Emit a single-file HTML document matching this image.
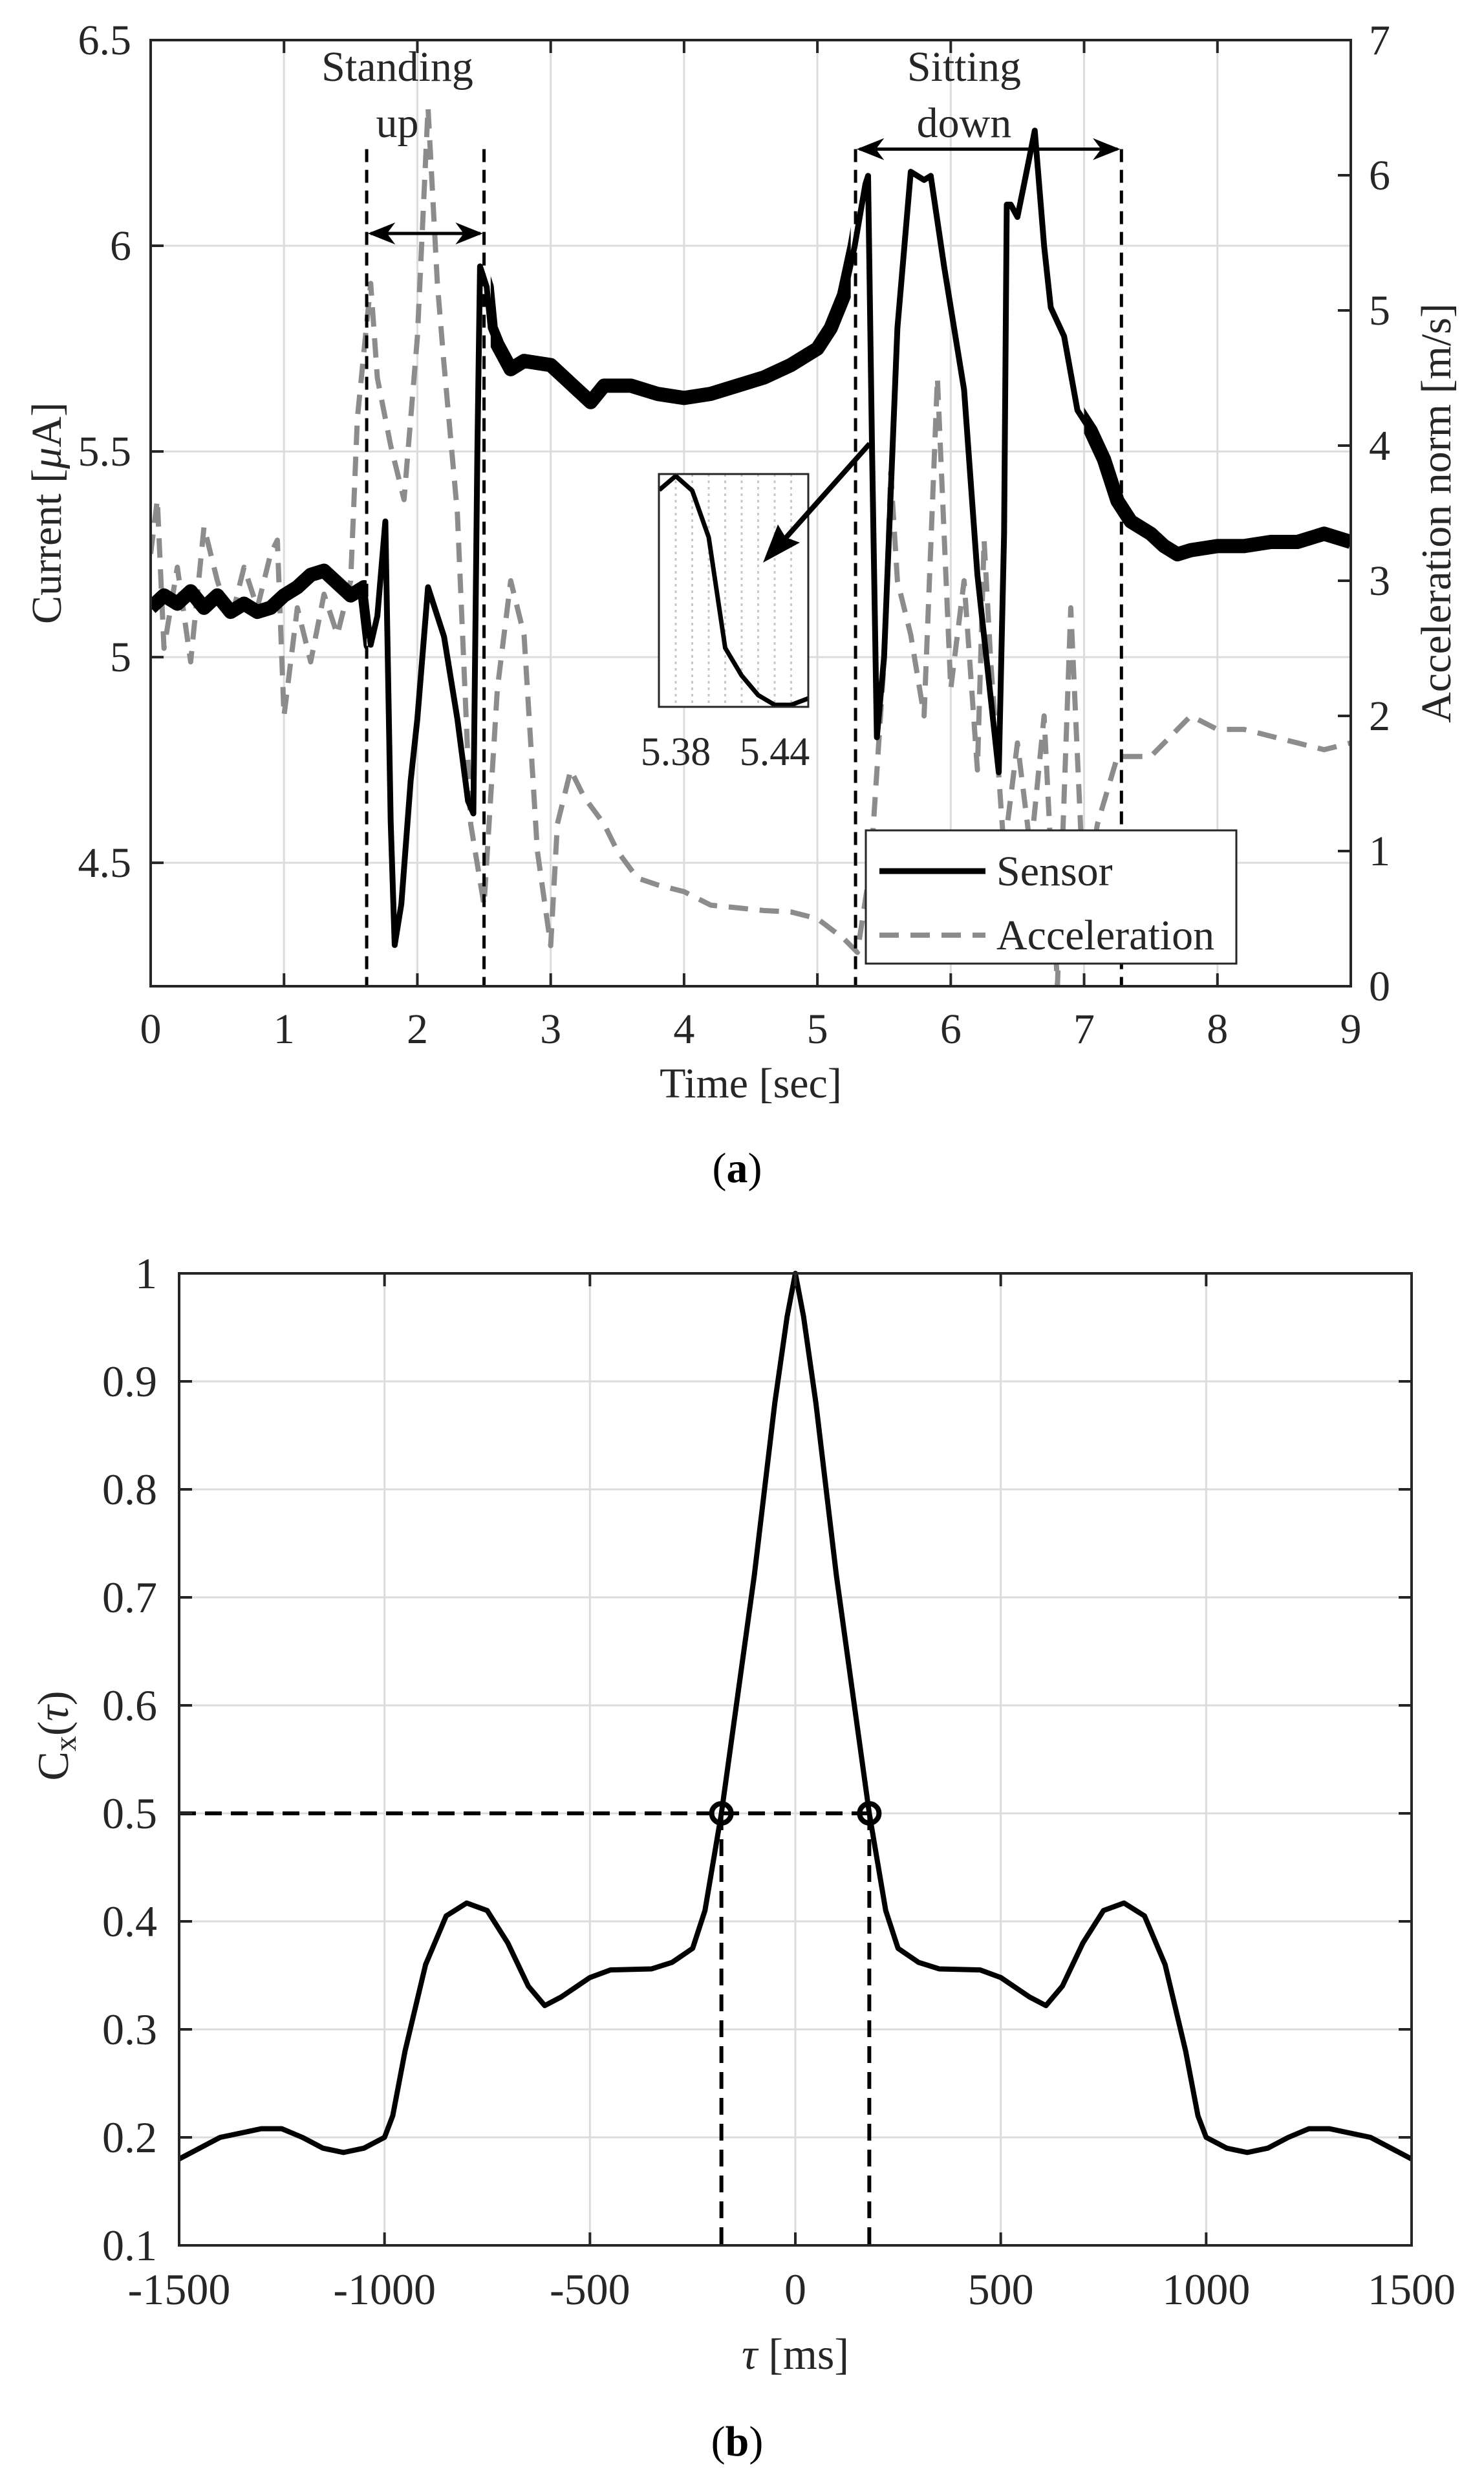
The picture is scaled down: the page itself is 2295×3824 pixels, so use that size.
<!DOCTYPE html>
<html><head><meta charset="utf-8">
<style>
html,body{margin:0;padding:0;background:#fff;}
svg{display:block;font-family:"Liberation Serif",serif;}
</style></head>
<body>
<svg id="fig" width="2295" height="3824" viewBox="0 0 2295 3824" xmlns="http://www.w3.org/2000/svg">
<rect width="2295" height="3824" fill="#fff"/>
<g id="chartA"></g>
<g id="chartB"></g>
</svg>
<script>
// ---------- Chart A data ----------
const sensorT = [0,0.1,0.2,0.3,0.4,0.5,0.6,0.7,0.8,0.9,1.0,1.1,1.2,1.3,1.4,1.5,1.6,1.65,1.7,1.76,1.8,1.83,1.88,1.95,2.0,2.08,2.2,2.3,2.38,2.42,2.45,2.47,2.52,2.55,2.6,2.7,2.8,3.0,3.1,3.2,3.3,3.4,3.6,3.8,4.0,4.2,4.4,4.6,4.8,5.0,5.1,5.2,5.28,5.36,5.38,5.41,5.446,5.5,5.6,5.7,5.8,5.85,5.95,6.05,6.1,6.2,6.3,6.36,6.4,6.42,6.45,6.5,6.55,6.63,6.7,6.75,6.85,6.95,7.05,7.15,7.25,7.35,7.5,7.6,7.7,7.8,8.0,8.2,8.4,8.6,8.8,9.0];
const sensorV = [5.12,5.15,5.13,5.16,5.12,5.15,5.11,5.13,5.11,5.12,5.15,5.17,5.2,5.21,5.18,5.15,5.17,5.03,5.1,5.33,4.6,4.3,4.4,4.7,4.85,5.17,5.05,4.85,4.65,4.62,5.5,5.95,5.9,5.8,5.76,5.7,5.72,5.71,5.68,5.65,5.62,5.66,5.66,5.64,5.63,5.64,5.66,5.68,5.71,5.75,5.8,5.88,6.0,6.15,6.17,5.5,4.805,5.0,5.8,6.18,6.16,6.17,5.95,5.75,5.65,5.2,4.9,4.72,5.3,6.1,6.1,6.07,6.15,6.28,6.0,5.85,5.78,5.6,5.55,5.48,5.38,5.33,5.3,5.27,5.25,5.26,5.27,5.27,5.28,5.28,5.3,5.28];
const accT = [0,0.05,0.1,0.2,0.3,0.4,0.5,0.6,0.7,0.8,0.9,0.95,1.0,1.1,1.2,1.3,1.4,1.5,1.55,1.65,1.7,1.8,1.9,2.0,2.08,2.15,2.2,2.3,2.4,2.5,2.6,2.7,2.8,2.9,3.0,3.05,3.15,3.25,3.4,3.5,3.65,3.8,4.0,4.2,4.4,4.6,4.8,5.0,5.2,5.3,5.4,5.5,5.55,5.6,5.7,5.8,5.9,6.0,6.1,6.2,6.25,6.3,6.4,6.5,6.6,6.7,6.8,6.9,7.0,7.1,7.25,7.5,7.8,8.0,8.2,8.4,8.6,8.8,9.0];
const accV = [3.2,3.6,2.5,3.1,2.4,3.4,3.0,2.7,3.1,2.8,3.2,3.3,2.0,2.8,2.4,2.9,2.6,3.0,4.2,5.2,4.5,4.0,3.6,4.8,6.5,5.2,4.6,3.5,1.2,0.6,2.2,3.0,2.6,1.0,0.3,1.2,1.6,1.4,1.2,1.0,0.8,0.75,0.7,0.6,0.58,0.56,0.55,0.5,0.35,0.25,0.9,2.4,3.8,3.0,2.6,2.0,4.5,2.2,3.0,1.6,3.3,2.4,1.0,1.8,1.0,2.0,0.0,2.8,0.6,1.2,1.7,1.7,2.0,1.9,1.9,1.85,1.8,1.75,1.8];
const insetT = [5.37,5.38,5.39,5.40,5.41,5.42,5.43,5.44,5.45,5.4604];
const insetV = [6.10,6.186,6.096,5.81,5.13,4.96,4.84,4.78,4.78,4.82];
const xTicksA = [0,1,2,3,4,5,6,7,8,9];
const yTicksA = [4.5,5,5.5,6,6.5];
const yTicksA2 = [0,1,2,3,4,5,6,7];
const eventLines = [1.62,2.50,5.286,7.28];
const noisyRanges = [[0,1.62],[2.55,5.25],[7.0,9]];

// ---------- Chart B data ----------
const tauHalf = [0,20,50,100,180,220,250,300,350,450,500,570,610,650,700,750,800,850,900,950,980,1000,1050,1100,1150,1200,1250,1300,1400,1500];
const corrHalf = [1.0,0.96,0.88,0.72,0.5,0.41,0.375,0.362,0.356,0.355,0.348,0.33,0.322,0.34,0.38,0.41,0.417,0.405,0.36,0.28,0.22,0.2,0.19,0.186,0.19,0.2,0.208,0.208,0.2,0.18];
const xTicksB = [-1500,-1000,-500,0,500,1000,1500];
const yTicksB = [0.1,0.2,0.3,0.4,0.5,0.6,0.7,0.8,0.9,1];
const halfWidth = 180;

const NS='http://www.w3.org/2000/svg';
function mk(parent,tag,attrs,text){const e=document.createElementNS(NS,tag);for(const k in attrs)e.setAttribute(k,attrs[k]);if(text!==undefined)e.textContent=text;parent.appendChild(e);return e;}
const TXT='#262626';

// ===== Chart A =====
(function(){
const g=document.getElementById('chartA');
const L=233,R=2089,T=62,B=1525;
const x=t=>L+(t-0)/9*(R-L);
const y=v=>B-(v-4.2)/(6.5-4.2)*(B-T);
const y2=a=>B-a/7*(B-T);
for(const t of xTicksA){ if(t>0&&t<9){const l=mk(g,'line',{x1:x(t),x2:x(t),y1:T,y2:B,stroke:'#dcdcdc','stroke-width':3});

}}
for(const v of yTicksA){ if(v<6.5){const l=mk(g,'line',{x1:L,x2:R,y1:y(v),y2:y(v),stroke:'#dcdcdc','stroke-width':3});

}}
const defs=mk(g,'defs',{});
const clip=mk(defs,'clipPath',{id:'clipA'});mk(clip,'rect',{x:L,y:T,width:R-L,height:B-T});
const clipN=mk(defs,'clipPath',{id:'clipNoise'});
for(const r of noisyRanges){mk(clipN,'rect',{x:x(r[0]),y:T,width:x(r[1])-x(r[0]),height:B-T});}
defs.innerHTML+='<marker id="ah" markerWidth="48" markerHeight="34" refX="9" refY="4" orient="auto-start-reverse" markerUnits="userSpaceOnUse" viewBox="0 0 10 8"><path d="M0,0 L10,4 L0,8 L3,4 Z" fill="#000"/></marker>';
// acceleration
const ap=mk(g,'polyline',{points:accT.map((t,i)=>x(t)+','+y2(accV[i])).join(' '),fill:'none',stroke:'#8c8c8c','stroke-width':8,'stroke-dasharray':'30,18','clip-path':'url(#clipA)','stroke-linejoin':'round'});


// sensor
const pts=sensorT.map((t,i)=>x(t)+','+y(sensorV[i])).join(' ');
const sp=mk(g,'polyline',{points:pts,fill:'none',stroke:'#000','stroke-width':9,'stroke-linejoin':'round','clip-path':'url(#clipA)'});


const gn=mk(g,'g',{'clip-path':'url(#clipNoise)'});
const sn=mk(gn,'polyline',{points:pts,fill:'none',stroke:'#000','stroke-width':22,'stroke-linejoin':'round'});


// event lines
for(const t of eventLines){const l=mk(g,'line',{x1:x(t),x2:x(t),y1:y(6.235),y2:B,stroke:'#000','stroke-width':5,'stroke-dasharray':'20,12'});

}
const a1=mk(g,'line',{x1:x(1.62)+6,x2:x(2.5)-6,y1:y(6.03),y2:y(6.03),stroke:'#000','stroke-width':5,'marker-start':'url(#ah)','marker-end':'url(#ah)'});


const a2=mk(g,'line',{x1:x(5.286)+6,x2:x(7.28)-6,y1:y(6.235),y2:y(6.235),stroke:'#000','stroke-width':5,'marker-start':'url(#ah)','marker-end':'url(#ah)'});


const ts=[['Standing',x(1.85),125,'standing-label'],['up',x(1.85),212,'standing-label-2'],['Sitting',x(6.1),125,'sitting-label'],['down',x(6.1),212,'sitting-label-2']];
for(const [s,xx,yy,n] of ts){const t=mk(g,'text',{x:xx,y:yy,'text-anchor':'middle','font-size':66,fill:TXT},s);

}
// inset
const IL=1019,IR=1250,IT=733,IB=1093;
const ix=t=>IL+(t-5.3698)/(5.4604-5.3698)*(IR-IL);
const iy=v=>IT+(6.186-v)/(6.186-4.78)*(IB-IT-6)+3;
mk(g,'rect',{x:IL,y:IT,width:IR-IL,height:IB-IT,fill:'#fff'});
for(let k=0;k<8;k++){const t=5.38+k*0.01;const l=mk(g,'line',{x1:ix(t),x2:ix(t),y1:IT,y2:IB,stroke:'#c8c8c8','stroke-width':3,'stroke-dasharray':'4,6'});

}
const ip=mk(g,'polyline',{points:insetT.map((t,i)=>ix(t)+','+iy(insetV[i])).join(' '),fill:'none',stroke:'#000','stroke-width':7,'stroke-linejoin':'round'});


const ib=mk(g,'rect',{x:IL,y:IT,width:IR-IL,height:IB-IT,fill:'none',stroke:'#262626','stroke-width':3});


for(const [s,t] of [['5.38',5.38],['5.44',5.44]]){const e=mk(g,'text',{x:ix(t),y:1183,'text-anchor':'middle','font-size':62,fill:TXT},s);

}
const za=mk(g,'line',{x1:1345,y1:686,x2:1190,y2:860,stroke:'#000','stroke-width':8});


mk(g,'path',{d:'M1180,870 L1203,811 L1215,831 L1237,839 Z',fill:'#000'});
const box=mk(g,'rect',{x:L,y:T,width:R-L,height:B-T,fill:'none',stroke:'#262626','stroke-width':4});


for(const t of xTicksA){mk(g,'line',{x1:x(t),x2:x(t),y1:B,y2:B-20,stroke:'#262626','stroke-width':4});mk(g,'line',{x1:x(t),x2:x(t),y1:T,y2:T+20,stroke:'#262626','stroke-width':4});
const e=mk(g,'text',{x:x(t),y:1613,'text-anchor':'middle','font-size':66,fill:TXT},String(t));

}
for(const v of yTicksA){mk(g,'line',{x1:L,x2:L+20,y1:y(v),y2:y(v),stroke:'#262626','stroke-width':4});
const e=mk(g,'text',{x:203,y:y(v)+22,'text-anchor':'end','font-size':66,fill:TXT},String(v));

}
for(const a of yTicksA2){mk(g,'line',{x1:R,x2:R-20,y1:y2(a),y2:y2(a),stroke:'#262626','stroke-width':4});
const e=mk(g,'text',{x:2117,y:y2(a)+22,'text-anchor':'start','font-size':66,fill:TXT},String(a));

}
let e=mk(g,'text',{x:(L+R)/2,y:1697,'text-anchor':'middle','font-size':66,fill:TXT},'Time [sec]');


e=mk(g,'text',{x:0,y:0,'text-anchor':'middle','font-size':66,fill:TXT,transform:'translate(94,'+((T+B)/2)+') rotate(-90)'});
e.innerHTML='Current [<tspan font-style="italic">μ</tspan>A]';


e=mk(g,'text',{x:0,y:0,'text-anchor':'middle','font-size':66,fill:TXT,transform:'translate(2243,'+((T+B)/2)+') rotate(-90)'},'Acceleration norm [m/s]');


const lg=mk(g,'g',{});


mk(lg,'rect',{x:1339,y:1284,width:573,height:206,fill:'#fff',stroke:'#262626','stroke-width':3});
mk(lg,'line',{x1:1360,x2:1524,y1:1347,y2:1347,stroke:'#000','stroke-width':9});
mk(lg,'line',{x1:1360,x2:1524,y1:1446,y2:1446,stroke:'#8c8c8c','stroke-width':8,'stroke-dasharray':'30,18'});
e=mk(lg,'text',{x:1541,y:1369,'font-size':66,fill:TXT},'Sensor');


e=mk(lg,'text',{x:1541,y:1468,'font-size':66,fill:TXT},'Acceleration');


e=mk(g,'text',{x:1140,y:1828,'text-anchor':'middle','font-size':66,fill:'#000'});
e.innerHTML='(<tspan font-weight="bold">a</tspan>)';


})();

// ===== Chart B =====
(function(){
const g=document.getElementById('chartB');
const L=277,R=2183,T=1969,B=3472;
const x=t=>L+(t+1500)/3000*(R-L);
const y=v=>B-(v-0.1)/0.9*(B-T);
for(const t of xTicksB){ if(t>-1500&&t<1500){const l=mk(g,'line',{x1:x(t),x2:x(t),y1:T,y2:B,stroke:'#dcdcdc','stroke-width':3});

}}
for(const v of yTicksB){ if(v>0.1&&v<1){const l=mk(g,'line',{x1:L,x2:R,y1:y(v),y2:y(v),stroke:'#dcdcdc','stroke-width':3});

}}
const pts=[];
for(let i=tauHalf.length-1;i>0;i--)pts.push([-tauHalf[i],corrHalf[i]]);
for(let i=0;i<tauHalf.length;i++)pts.push([tauHalf[i],corrHalf[i]]);
let e=mk(g,'line',{x1:L,x2:x(halfWidth),y1:y(0.5),y2:y(0.5),stroke:'#000','stroke-width':6,'stroke-dasharray':'26,14'});


for(const s of [-1,1]){e=mk(g,'line',{x1:x(s*halfWidth),x2:x(s*halfWidth),y1:y(0.5),y2:B,stroke:'#000','stroke-width':6,'stroke-dasharray':'26,14'});

}
e=mk(g,'polyline',{points:pts.map(p=>x(p[0])+','+y(p[1])).join(' '),fill:'none',stroke:'#000','stroke-width':8,'stroke-linejoin':'round'});


for(const s of [-1,1]){e=mk(g,'circle',{cx:x(s*halfWidth),cy:y(0.5),r:15,fill:'none',stroke:'#000','stroke-width':8});

}
const box=mk(g,'rect',{x:L,y:T,width:R-L,height:B-T,fill:'none',stroke:'#262626','stroke-width':4});


for(const t of xTicksB){mk(g,'line',{x1:x(t),x2:x(t),y1:B,y2:B-20,stroke:'#262626','stroke-width':4});mk(g,'line',{x1:x(t),x2:x(t),y1:T,y2:T+20,stroke:'#262626','stroke-width':4});
e=mk(g,'text',{x:x(t),y:3563,'text-anchor':'middle','font-size':68,fill:TXT},String(t));

}
for(const v of yTicksB){mk(g,'line',{x1:L,x2:L+20,y1:y(v),y2:y(v),stroke:'#262626','stroke-width':4});mk(g,'line',{x1:R,x2:R-20,y1:y(v),y2:y(v),stroke:'#262626','stroke-width':4});
e=mk(g,'text',{x:243,y:y(v)+23,'text-anchor':'end','font-size':68,fill:TXT},String(v));

}
e=mk(g,'text',{x:(L+R)/2,y:3663,'text-anchor':'middle','font-size':68,fill:TXT});
e.innerHTML='<tspan font-style="italic">τ</tspan> [ms]';


e=mk(g,'text',{x:0,y:0,'text-anchor':'middle','font-size':68,fill:TXT,transform:'translate(105,2684) rotate(-90)'});
e.innerHTML='C<tspan font-size="48" dy="12">x</tspan><tspan dy="-12">(</tspan><tspan font-style="italic">τ</tspan>)';


e=mk(g,'text',{x:1140,y:3797,'text-anchor':'middle','font-size':66,fill:'#000'});
e.innerHTML='(<tspan font-weight="bold">b</tspan>)';


})();
</script>
</body></html>
